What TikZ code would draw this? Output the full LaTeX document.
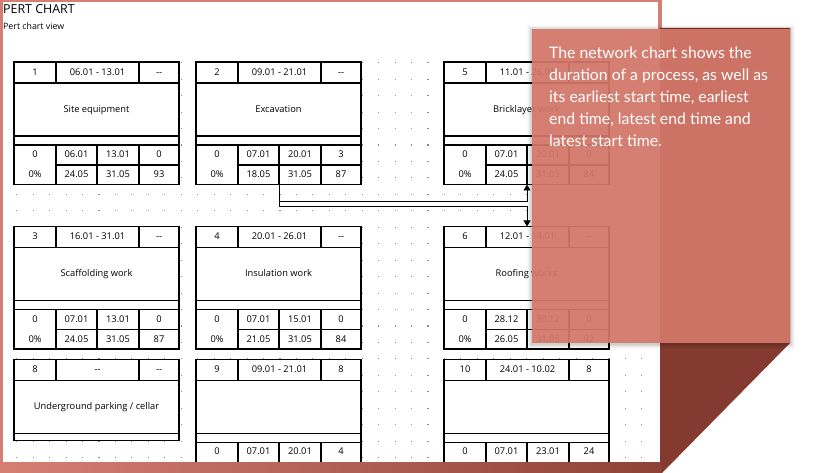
\documentclass[tikz,border=0pt]{standalone}
\usepackage{fontspec}
\setmainfont{Open Sans}
\newfontfamily\latofont{Lato}
\usetikzlibrary{arrows.meta}
\definecolor{framec}{HTML}{D57F73}
\definecolor{framedark}{HTML}{8E4236}
\definecolor{brownf}{HTML}{843A2F}
\definecolor{calloutc}{HTML}{D5796B}
\definecolor{dotc}{HTML}{8C8C8C}
\newcommand{\dd}{-{}-}
\tikzset{
  cellbox/.style={draw=black, fill=white, line width=1.4pt, minimum width=165pt, inner sep=0pt, outer sep=0pt, anchor=north west},
  cellline/.style={line width=1.4pt},
  celltext/.style={font=\fontsize{9.3}{11}\selectfont, inner sep=0pt, text height=6.8pt, text depth=1.6pt, anchor=center},
  conn/.style={line width=0.8pt, -{Triangle[length=6pt,width=7pt]}},
  calltext/.style={font=\latofont\fontsize{15.8}{22}\selectfont, text=white, inner sep=0pt, anchor=base west},
}
% box with header, title, band
\newcommand{\pertbox}[8]{% #1 name, #2 x, #3 y, #4 id, #5 dates, #6 third, #7 title, #8 height
  \begin{scope}[shift={(#2,#3)}]
    \node[cellbox, minimum height=#8pt] (#1) at (0,0) {};
    \draw[cellline] (0,21) -- (165,21);
    \draw[cellline] (0,74) -- (165,74);
    \draw[cellline] (42,0) -- (42,21);
    \draw[cellline] (125,0) -- (125,21);
    \node[celltext] (#1-id) at (21,10.5) {#4};
    \node[celltext] (#1-dates) at (83.5,10.5) {#5};
    \node[celltext] (#1-third) at (145,10.5) {#6};
    \node[celltext] (#1-title) at (82.5,47.5) {#7};
    \coordinate (#1-t3) at (83,0);
    \coordinate (#1-b3) at (83,#8);
  \end{scope}}
\newcommand{\pertrowone}[5]{%
  \begin{scope}[shift={(#1.north west)}]
    \draw[cellline] (0,83) -- (165,83);
    \draw[cellline] (42,83) -- (42,123);
    \draw[cellline] (83,83) -- (83,123);
    \draw[cellline] (125,83) -- (125,123);
    \draw[cellline] (42,103) -- (165,103);
    \node[celltext] (#1-r1a) at (21,93) {#2};
    \node[celltext] (#1-r1b) at (62.5,93) {#3};
    \node[celltext] (#1-r1c) at (104,93) {#4};
    \node[celltext] (#1-r1d) at (145,93) {#5};
  \end{scope}}
\newcommand{\pertrowtwo}[5]{%
  \begin{scope}[shift={(#1.north west)}]
    \node[celltext] (#1-r2a) at (21,113) {#2};
    \node[celltext] (#1-r2b) at (62.5,113) {#3};
    \node[celltext] (#1-r2c) at (104,113) {#4};
    \node[celltext] (#1-r2d) at (145,113) {#5};
  \end{scope}}
\begin{document}
\begin{tikzpicture}[x=1pt,y=-1pt]
\useasboundingbox (0,0) rectangle (830,473);
\fill[white] (0,0) rectangle (830,473);
% dot grid
\begin{scope}
  \clip (3,2) rectangle (658,462);
  \foreach \i in {0,...,39}{
    \foreach \j in {0,...,24}{
      \fill[dotc] ({16.2+16.45*\i},{62.2+16.45*\j}) rectangle ++(1.1,1.1);
    }}
\end{scope}
% titles
\node[font=\fontsize{12.4}{14}\selectfont, inner sep=0pt, anchor=base west] (title) at (3,14) {PERT CHART};
\node[font=\fontsize{8.8}{10}\selectfont, inner sep=0pt, anchor=base west] (subtitle) at (3,29.5) {Pert chart view};
% row 1
\pertbox{p1}{14}{62}{1}{06.01 - 13.01}{\dd}{Site equipment}{122.5}
\pertrowone{p1}{0}{06.01}{13.01}{0}
\pertrowtwo{p1}{0\%}{24.05}{31.05}{93}
\pertbox{p2}{196}{62}{2}{09.01 - 21.01}{\dd}{Excavation}{122.5}
\pertrowone{p2}{0}{07.01}{20.01}{3}
\pertrowtwo{p2}{0\%}{18.05}{31.05}{87}
\pertbox{p5}{444}{62}{5}{11.01 - 26.01}{\dd}{Bricklayer work}{122.5}
\pertrowone{p5}{0}{07.01}{20.01}{0}
\pertrowtwo{p5}{0\%}{24.05}{31.05}{84}
% row 2
\pertbox{p3}{14}{226.5}{3}{16.01 - 31.01}{\dd}{Scaffolding work}{122.5}
\pertrowone{p3}{0}{07.01}{13.01}{0}
\pertrowtwo{p3}{0\%}{24.05}{31.05}{87}
\pertbox{p4}{196}{226.5}{4}{20.01 - 26.01}{\dd}{Insulation work}{122.5}
\pertrowone{p4}{0}{07.01}{15.01}{0}
\pertrowtwo{p4}{0\%}{21.05}{31.05}{84}
\pertbox{p6}{444}{226.5}{6}{12.01 - 14.01}{\dd}{Roofing works}{122.5}
\pertrowone{p6}{0}{28.12}{30.12}{0}
\pertrowtwo{p6}{0\%}{26.05}{31.05}{92}
% row 3
\pertbox{p8}{14}{359.3}{8}{\dd}{\dd}{Underground parking / cellar}{81}
\begin{scope}
  \clip (3,2) rectangle (658,462);
  \pertbox{p9}{196}{359.3}{9}{09.01 - 21.01}{8}{}{123}
  \pertrowone{p9}{0}{07.01}{20.01}{4}
  \pertbox{p10}{444}{359.3}{10}{24.01 - 10.02}{8}{}{123}
  \pertrowone{p10}{0}{07.01}{23.01}{24}
\end{scope}
% connectors
\draw[conn] (p2-b3) -- ++(0,17.2) -| (p5-b3);
\draw[conn] (p2-b3) -- ++(0,22.2) -| (p6-t3);
% frame
\fill[framec] (0,0) rectangle (662,2);
\fill[framec] (0,0) rectangle (3,462);
\fill[framec] (658,0) rectangle (662,29);
\fill[brownf] (660,28) -- (790,28) -- (790,343) -- (662,473) -- (660,473) -- cycle;
\shade[left color=framec, right color=framedark] (0,462) rectangle (661,473);
% callout shadow
\foreach \s/\o in {5/0.025,4/0.03,3/0.04,2/0.05,1/0.06}{
  \fill[black, opacity=\o] ({532-\s},{29-\s+1}) rectangle ({790+\s},{343+\s+1});
}
\node[fill=calloutc, fill opacity=0.92, minimum width=258pt, minimum height=314pt, inner sep=0pt, anchor=north west] (callout) at (532,29) {};
\node[calltext] (cl1) at (549,59) {The network chart shows the};
\node[calltext] (cl2) at (549,81) {duration of a process, as well as};
\node[calltext] (cl3) at (549,103) {its earliest start time, earliest};
\node[calltext] (cl4) at (549,125) {end time, latest end time and};
\node[calltext] (cl5) at (549,147) {latest start time.};
\end{tikzpicture}
\end{document}
